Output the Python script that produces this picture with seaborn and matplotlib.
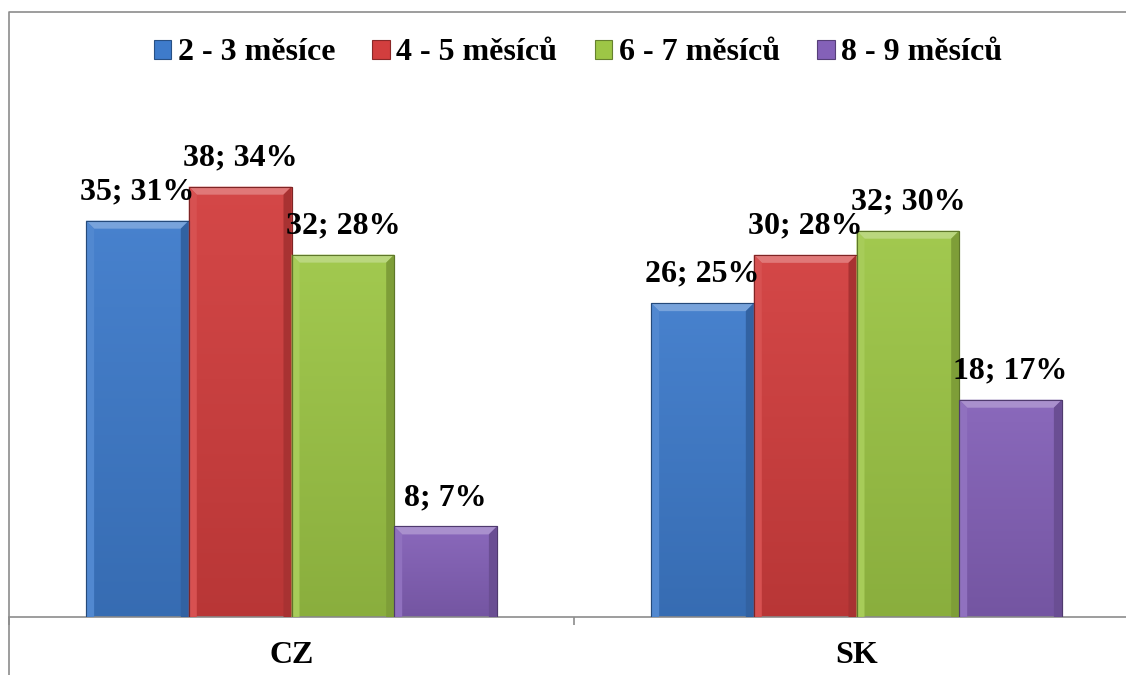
import numpy as np
import pandas as pd
import matplotlib
matplotlib.use("Agg")
import matplotlib.pyplot as plt
from matplotlib.patches import Patch, Polygon
from matplotlib.lines import Line2D
import matplotlib.colors as mcolors
import seaborn as sns

# ---- data ----
countries = ["CZ", "SK"]
groups = ["2 - 3 měsíce", "4 - 5 měsíců", "6 - 7 měsíců", "8 - 9 měsíců"]
counts_cz = [35, 38, 32, 8]
counts_sk = [26, 30, 32, 18]
pct_cz = [31, 34, 28, 7]
pct_sk = [25, 28, 30, 17]
colors = ["#3E7BCB", "#D23E3E", "#9DC646", "#8461B8"]

rows = []
for c, cnts, pcts in [("CZ", counts_cz, pct_cz), ("SK", counts_sk, pct_sk)]:
    tot = sum(cnts)
    for g, n, p in zip(groups, cnts, pcts):
        rows.append(dict(country=c, group=g, share=100.0 * n / tot,
                         label=f"{n}; {p}%"))
df = pd.DataFrame(rows)

sns.set_theme(style="white")
plt.rcParams["font.family"] = ["Liberation Serif", "DejaVu Serif"]
plt.rcParams["font.weight"] = "bold"
plt.rcParams["text.color"] = "black"
plt.rcParams["xtick.labelcolor"] = "black"

FS = 23
W, H = 1126, 675
fig = plt.figure(figsize=(W / 100, H / 100), dpi=100)
ax_left = 9 / W
ax_bottom = 1 - 617 / H
ax_w = 1130 / W
ax_h = 508 / H
ax = fig.add_axes([ax_left, ax_bottom, ax_w, ax_h])

sns.barplot(data=df, x="country", y="share", hue="group", palette=colors,
            width=0.727, ax=ax, legend=False, saturation=1, linewidth=0)
ax.set_xlim(-0.5, 1.5)
ax.set_ylim(0, 39.7)

def shade(c, f):
    r, g, b = mcolors.to_rgb(c)
    if f >= 0:
        return (r + (1 - r) * f, g + (1 - g) * f, b + (1 - b) * f)
    f = -f
    return (r * (1 - f), g * (1 - f), b * (1 - f))

bx = 8 / 565.0
by = 8 / 12.8
bars = [p for p in ax.patches if p.get_height() > 0]
ordered = []
for gi, g in enumerate(groups):
    for ci, c in enumerate(countries):
        ordered.append((gi, ci))
for p, (gi, ci) in zip(bars, ordered):
    base = colors[gi]
    x, w, h = p.get_x(), p.get_width(), p.get_height()
    p.set_facecolor(base)
    p.set_edgecolor(shade(base, -0.35))
    p.set_linewidth(0.8)
    # vertical gradient
    top = np.array(shade(base, 0.05))
    bot = np.array(shade(base, -0.12))
    n = 64
    t = np.linspace(0, 1, n)[:, None]
    grad = top[None, :] * (1 - t) + bot[None, :] * t
    img = np.repeat(grad[:, None, :], 2, axis=1)
    im = ax.imshow(img, extent=(x, x + w, 0, h), aspect="auto", zorder=2,
                   interpolation="bilinear")
    im.set_clip_path(p)
    # bevels
    ax.add_patch(Polygon([(x, h), (x + w, h), (x + w - bx, h - by), (x + bx, h - by)],
                         closed=True, facecolor=shade(base, 0.3), edgecolor="none", zorder=3))
    ax.add_patch(Polygon([(x, 0), (x, h), (x + bx, h - by), (x + bx, 0)],
                         closed=True, facecolor=shade(base, 0.1), edgecolor="none", zorder=3))
    ax.add_patch(Polygon([(x + w, 0), (x + w, h), (x + w - bx, h - by), (x + w - bx, 0)],
                         closed=True, facecolor=shade(base, -0.2), edgecolor="none", zorder=3))
    ax.add_patch(Polygon([(x, h), (x + w, h), (x + w, 0), (x, 0)], closed=True,
                         facecolor="none", edgecolor=shade(base, -0.4), lw=0.8, zorder=4))
    lab = df[(df.group == groups[gi]) & (df.country == countries[ci])]["label"].iloc[0]
    ax.annotate(lab, (x + w / 2, h), xytext=(0, 29), textcoords="offset pixels",
                ha="center", va="center", fontsize=FS, fontweight="bold",
                color="black", zorder=5, annotation_clip=False)

# axes styling
for s in ["top", "right", "left"]:
    ax.spines[s].set_visible(False)
ax.spines["bottom"].set_color("#8c8c8c")
ax.spines["bottom"].set_linewidth(1.2)
ax.set_yticks([])
ax.set_ylabel("")
ax.set_xlabel("")
ax.set_xticks([-0.5, 0.5, 1.5])
ax.set_xticklabels([])
ax.tick_params(axis="x", which="major", length=6, width=1.2, color="#8c8c8c", direction="out", bottom=True)
ax.set_xticks([0, 1], minor=True)
ax.set_xticklabels(countries, minor=True, fontsize=FS, fontweight="bold", color="black")
ax.tick_params(axis="x", which="minor", length=0, pad=17)

# chart area border (left & top)
fig.add_artist(Line2D([9 / W, 9 / W, 1.0], [0, 1 - 12 / H, 1 - 12 / H],
                      transform=fig.transFigure, color="#8c8c8c", lw=1.2))

handles = [Patch(facecolor=c, edgecolor=shade(c, -0.35), lw=0.8) for c in colors]
leg = fig.legend(handles, groups, loc="center", bbox_to_anchor=(578 / W, 1 - 53 / H), ncol=4,
                 frameon=False, prop=dict(family="Liberation Serif", weight="bold", size=FS),
                 handlelength=0.55, handleheight=0.55, handletextpad=0.2, columnspacing=1.17)
for t in leg.get_texts():
    t.set_color("black")

fig.savefig("out.png", dpi=100)
